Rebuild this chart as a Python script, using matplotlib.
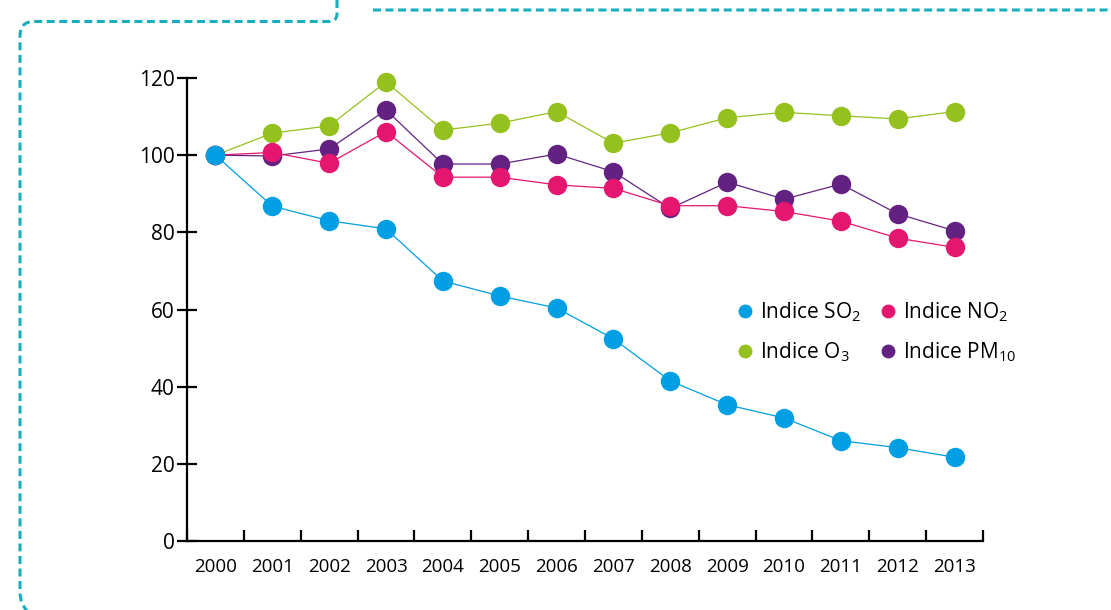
import matplotlib
matplotlib.use("Agg")
import matplotlib.pyplot as plt
from matplotlib.lines import Line2D
from matplotlib.path import Path
from matplotlib.patches import PathPatch

plt.rcParams['font.family'] = ['Open Sans', 'DejaVu Sans']
plt.rcParams['mathtext.default'] = 'regular'

years = ['2000', '2001', '2002', '2003', '2004', '2005', '2006',
         '2007', '2008', '2009', '2010', '2011', '2012', '2013']
so2 = [100, 86.8, 83.0, 80.9, 67.4, 63.5, 60.4, 52.4, 41.5, 35.3, 31.9, 26.0, 24.2, 21.7]
no2 = [100, 100.7, 97.9, 106.1, 94.3, 94.3, 92.3, 91.4, 86.9, 86.9, 85.4, 82.9, 78.5, 76.1]
o3 = [100, 105.7, 107.6, 119.0, 106.5, 108.3, 111.3, 103.1, 105.8, 109.7, 111.1, 110.2, 109.4, 111.3]
pm10 = [100, 99.8, 101.6, 111.7, 97.7, 97.7, 100.3, 95.7, 86.2, 93.0, 88.6, 92.5, 84.8, 80.4]
y_ticks = [0, 20, 40, 60, 80, 100, 120]

C_SO2 = '#009FE3'
C_NO2 = '#E5166F'
C_O3 = '#95C11F'
C_PM = '#632282'
C_BORDER = '#17AEBE'

W, H = 1111, 610
fig = plt.figure(figsize=(W / 100, H / 100), dpi=100)

# decorative dashed frame (figure pixel coordinates)
bax = fig.add_axes([0, 0, 1, 1])
bax.set_xlim(0, W)
bax.set_ylim(H, 0)
bax.axis('off')
dash = (0, (2.6, 1.5))
verts = [(337, 0), (337, 14), (337, 21.5), (328, 21.5), (34, 21.5),
         (20, 21.5), (20, 36), (20, 592), (20, 604), (28, 612)]
codes = [Path.MOVETO, Path.LINETO, Path.CURVE3, Path.CURVE3, Path.LINETO,
         Path.CURVE3, Path.CURVE3, Path.LINETO, Path.CURVE3, Path.CURVE3]
bax.add_patch(PathPatch(Path(verts, codes), fill=False, edgecolor=C_BORDER,
                        lw=2.2, linestyle=dash))
bax.plot([373, 1107, 1111], [10, 10, 13], color=C_BORDER, lw=2.2,
         linestyle=dash)

left, right = 187 / W, 983 / W
bottom, top = (H - 541) / H, (H - 78) / H
ax = fig.add_axes([left, bottom, right - left, top - bottom])

x = list(range(len(years)))
ms = 14
lw = 0.9
for vals, col in [(o3, C_O3), (pm10, C_PM), (no2, C_NO2), (so2, C_SO2)]:
    ax.plot(x, vals, color=col, lw=lw, marker='o', markersize=ms,
            markeredgewidth=0, clip_on=False)

ax.set_xlim(-0.5, len(years) - 0.5)
ax.set_ylim(0, 120)
ax.spines['top'].set_visible(False)
ax.spines['right'].set_visible(False)
ax.spines['left'].set_linewidth(1.6)
ax.spines['bottom'].set_linewidth(1.6)

ax.set_yticks(y_ticks)
ax.set_yticklabels([str(v) for v in y_ticks])
ax.tick_params(axis='y', direction='inout', length=14, width=1.6,
               labelsize=15, pad=2)

ax.set_xticks(x)
ax.set_xticklabels(years)
ax.set_xticks([i - 0.5 for i in range(len(years) + 1)], minor=True)
ax.tick_params(axis='x', which='major', length=0, labelsize=13.5, pad=12)
ax.tick_params(axis='x', which='minor', direction='in', length=8, width=1.6)

handles = [
    Line2D([], [], marker='o', linestyle='none', color=C_SO2, markersize=10, markeredgewidth=0),
    Line2D([], [], marker='o', linestyle='none', color=C_O3, markersize=10, markeredgewidth=0),
    Line2D([], [], marker='o', linestyle='none', color=C_NO2, markersize=10, markeredgewidth=0),
    Line2D([], [], marker='o', linestyle='none', color=C_PM, markersize=10, markeredgewidth=0),
]
labels = ['Indice SO$_2$', 'Indice O$_3$', 'Indice NO$_2$', 'Indice PM$_{10}$']
fig.legend(handles, labels, ncol=2, frameon=False, fontsize=15,
           loc='upper left', bbox_to_anchor=(724 / W, (H - 290) / H),
           borderpad=0, handlelength=1.0, handletextpad=0.25,
           columnspacing=0.75, labelspacing=0.8)

fig.savefig('out.png', dpi=100)
